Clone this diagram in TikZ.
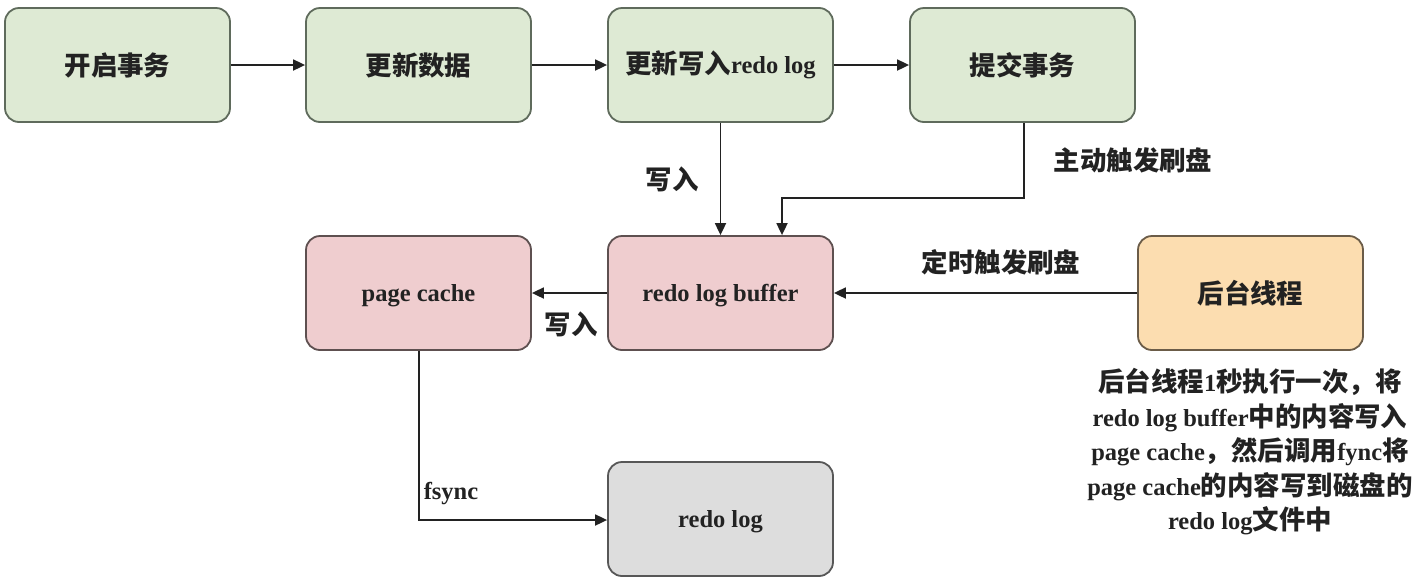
\documentclass[tikz,border=0pt]{standalone}
\usepackage{fontspec}
\setmainfont{Liberation Serif}
\newfontfamily\cjk[Scale=1.08]{Noto Sans CJK SC}
\usetikzlibrary{arrows.meta}
\definecolor{gfill}{HTML}{DEEAD4}
\definecolor{gdraw}{HTML}{5F6B5C}
\definecolor{pfill}{HTML}{EFCDCF}
\definecolor{pdraw}{HTML}{5E5050}
\definecolor{ofill}{HTML}{FCDDB0}
\definecolor{odraw}{HTML}{6B5C48}
\definecolor{kfill}{HTML}{DDDDDD}
\definecolor{kdraw}{HTML}{575757}
\definecolor{txt}{HTML}{222222}
\newcommand{\zh}[1]{{\cjk\bfseries #1}}
\tikzset{
  x=1pt,y=-1pt,
  box/.style={draw, line width=1.8pt, rounded corners=14pt, minimum width=225pt, minimum height=114pt, inner sep=0pt, font=\fontsize{24.5}{28}\selectfont\bfseries, text=txt},
  gbox/.style={box, fill=gfill, draw=gdraw},
  pbox/.style={box, fill=pfill, draw=pdraw, text depth=0pt},
  obox/.style={box, fill=ofill, draw=odraw},
  kbox/.style={box, fill=kfill, draw=kdraw, text depth=0pt},
  conn/.style={draw=txt, line width=1.8pt, -{Triangle[length=12pt,width=11pt]}},
  lbl/.style={font=\fontsize{24.5}{28}\selectfont\bfseries, text=txt, inner sep=0pt},
}
\begin{document}
\begin{tikzpicture}
\useasboundingbox (0,0) rectangle (1424,582);
\node[gbox] (start) at (117.5,65) {\zh{开启事务}};
\node[gbox] (upd) at (418.5,65) {\zh{更新数据}};
\node[gbox] (wr) at (720.5,65) {\zh{更新写入}redo log};
\node[gbox] (commit) at (1022.5,65) {\zh{提交事务}};
\node[pbox] (pc) at (418.5,293) {page cache};
\node[pbox] (buf) at (720.5,293) {redo log buffer};
\node[obox] (bg) at (1250.5,293) {\zh{后台线程}};
\node[kbox] (log) at (720.5,519) {redo log};

\draw[conn] (start) -- (upd);
\draw[conn] (upd) -- (wr);
\draw[conn] (wr) -- (commit);
\draw[conn] (wr) -- (buf);
\coordinate (c1) at (1024,198);
\coordinate (c2) at (782,198);
\draw[conn] (commit.south -| c1) -- (c1) -- (c2) -- (c2 |- buf.north);
\draw[conn] (bg) -- (buf);
\draw[conn] (buf) -- (pc);
\coordinate (c3) at (419,520);
\draw[conn] (pc.south -| c3) -- (c3) -- (c3 -| log.west);

\node[lbl] (l1) at (672,179) {\zh{写入}};
\node[lbl] (l2) at (1133,160) {\zh{主动触发刷盘}};
\node[lbl] (l3) at (1001,262) {\zh{定时触发刷盘}};
\node[lbl] (l4) at (571,324) {\zh{写入}};
\node[lbl] (l5) at (451,494) {fsync};

\node[lbl, align=center, font=\fontsize{24.5}{34.5}\selectfont\bfseries] (note) at (1250,452)
 {\zh{后台线程}1\zh{秒执行一次，将}\\
  redo log buffer\zh{中的内容写入}\\
  page cache\zh{，然后调用}fync\zh{将}\\
  page cache\zh{的内容写到磁盘的}\\
  redo log\zh{文件中}};
\end{tikzpicture}
\end{document}
